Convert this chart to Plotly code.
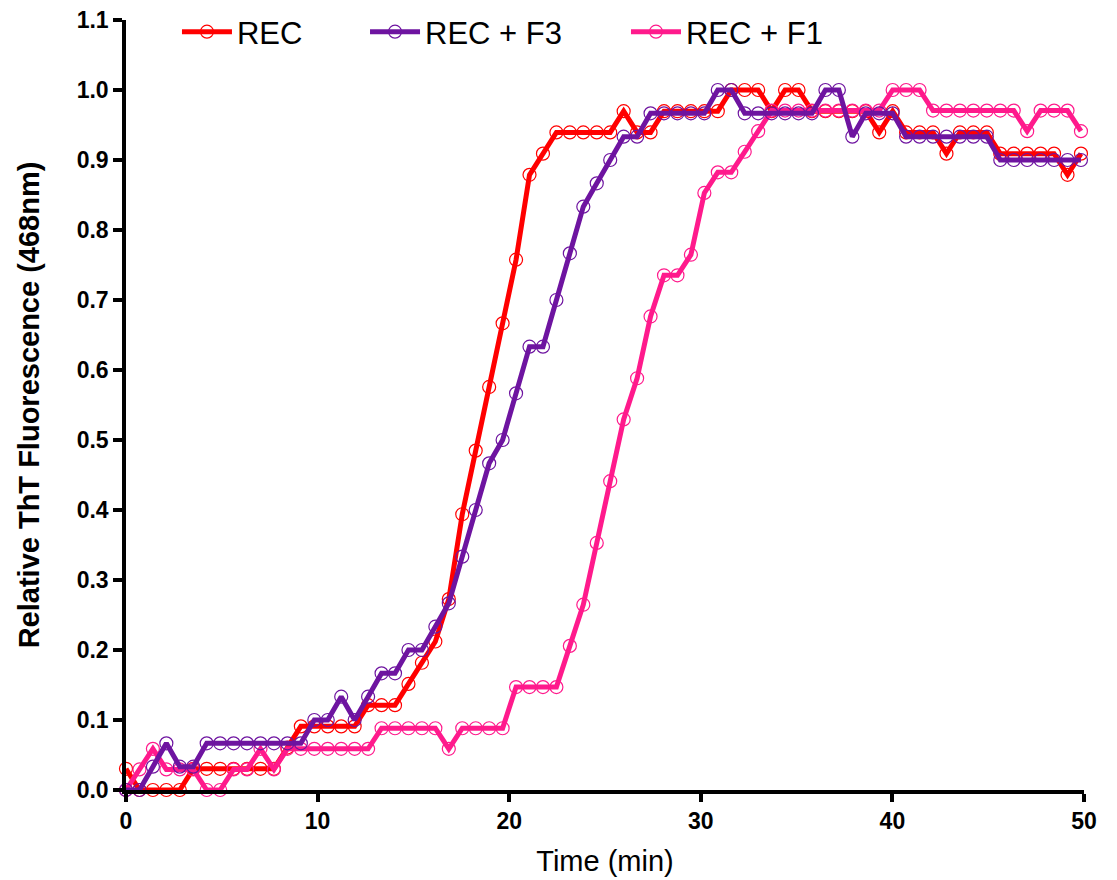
import plotly.graph_objects as go

# time step (min) between readings
dt = 0.702
n_points = 72
time_min = [round(i * dt, 3) for i in range(n_points)]

# raw counts (normalised later by each series' maximum)
rec_counts = [1, 0, 0, 0, 0, 1, 1, 1, 1, 1, 1, 1, 2, 3, 3, 3, 3, 3, 4, 4,
              4, 5, 6, 7, 9, 13, 16, 19, 22, 25, 29, 30, 31, 31, 31, 31, 31, 32, 31, 31,
              32, 32, 32, 32, 32, 33, 33, 33, 32, 33, 33, 32, 32, 32, 32, 32, 31, 32, 31, 31,
              31, 30, 31, 31, 31, 30, 30, 30, 30, 30, 29, 30]
rec_f3_counts = [0, 0, 1, 2, 1, 1, 2, 2, 2, 2, 2, 2, 2, 2, 3, 3, 4, 3, 4, 5,
                 5, 6, 6, 7, 8, 10, 12, 14, 15, 17, 19, 19, 21, 23, 25, 26, 27, 28, 28, 29,
                 29, 29, 29, 29, 30, 30, 29, 29, 29, 29, 29, 29, 30, 30, 28, 29, 29, 29, 28, 28,
                 28, 28, 28, 28, 28, 27, 27, 27, 27, 27, 27, 27]
rec_f1_counts = [0, 1, 2, 1, 1, 1, 0, 0, 1, 1, 2, 1, 2, 2, 2, 2, 2, 2, 2, 3,
                 3, 3, 3, 3, 2, 3, 3, 3, 3, 5, 5, 5, 5, 7, 9, 12, 15, 18, 20, 23,
                 25, 25, 26, 29, 30, 30, 31, 32, 33, 33, 33, 33, 33, 33, 33, 33, 33, 34, 34, 34,
                 33, 33, 33, 33, 33, 33, 33, 32, 33, 33, 33, 32]

rec = [c / max(rec_counts) for c in rec_counts]
rec_f3 = [c / max(rec_f3_counts) for c in rec_f3_counts]
rec_f1 = [c / max(rec_f1_counts) for c in rec_f1_counts]

series_names = ["REC", "REC + F3", "REC + F1"]
colors = {"REC": "#FF0000", "REC + F3": "#6E14A0", "REC + F1": "#FF1A8C"}

FONT = "Arial, 'Liberation Sans', sans-serif"

fig = go.Figure()

def add(name, y, legend_id):
    c = colors[name]
    fig.add_trace(go.Scatter(
        x=time_min, y=y, name=name, mode="lines+markers",
        line=dict(color=c, width=5),
        marker=dict(symbol="circle-open", size=13, color=c, line=dict(width=1.2, color=c)),
        cliponaxis=False, legend=legend_id,
    ))

# drawing order: REC, REC + F1, REC + F3 (purple on top)
add("REC", rec, "legend")
add("REC + F1", rec_f1, "legend3")
add("REC + F3", rec_f3, "legend2")

leg_common = dict(orientation="h", xanchor="left", yanchor="middle", y=0.9844,
                  bgcolor="rgba(0,0,0,0)", borderwidth=0,
                  font=dict(family=FONT, size=31, color="black"), itemwidth=50)

fig.update_layout(
    width=1117, height=880,
    margin=dict(l=118, r=41, t=12, b=98, autoexpand=False),
    paper_bgcolor="white", plot_bgcolor="white",
    showlegend=True,
    legend=dict(x=0.0532, **leg_common),
    legend2=dict(x=0.2495, **leg_common),
    legend3=dict(x=0.5219, **leg_common),
    xaxis=dict(
        range=[0, 50], dtick=10, tick0=0,
        showline=True, linecolor="black", linewidth=3.5,
        ticks="outside", ticklen=8, tickwidth=3.5, tickcolor="black",
        showgrid=False, zeroline=False, ticklabeloverflow="allow",
        tickfont=dict(family=FONT, size=23, color="black", weight="bold"),
        title=dict(text="Time (min)", font=dict(family=FONT, size=29, color="black"), standoff=18),
    ),
    yaxis=dict(
        range=[0, 1.1], dtick=0.1, tick0=0, tickformat=".1f",
        showline=True, linecolor="black", linewidth=3.5,
        ticks="outside", ticklen=9, tickwidth=3.5, tickcolor="black",
        showgrid=False, zeroline=False, ticklabeloverflow="allow",
        tickfont=dict(family=FONT, size=23, color="black", weight="bold"),
        title=dict(text="Relative ThT Fluorescence (468nm)",
                   font=dict(family=FONT, size=29, color="black", weight="bold"), standoff=30),
    ),
)

fig.write_html("out.html")
